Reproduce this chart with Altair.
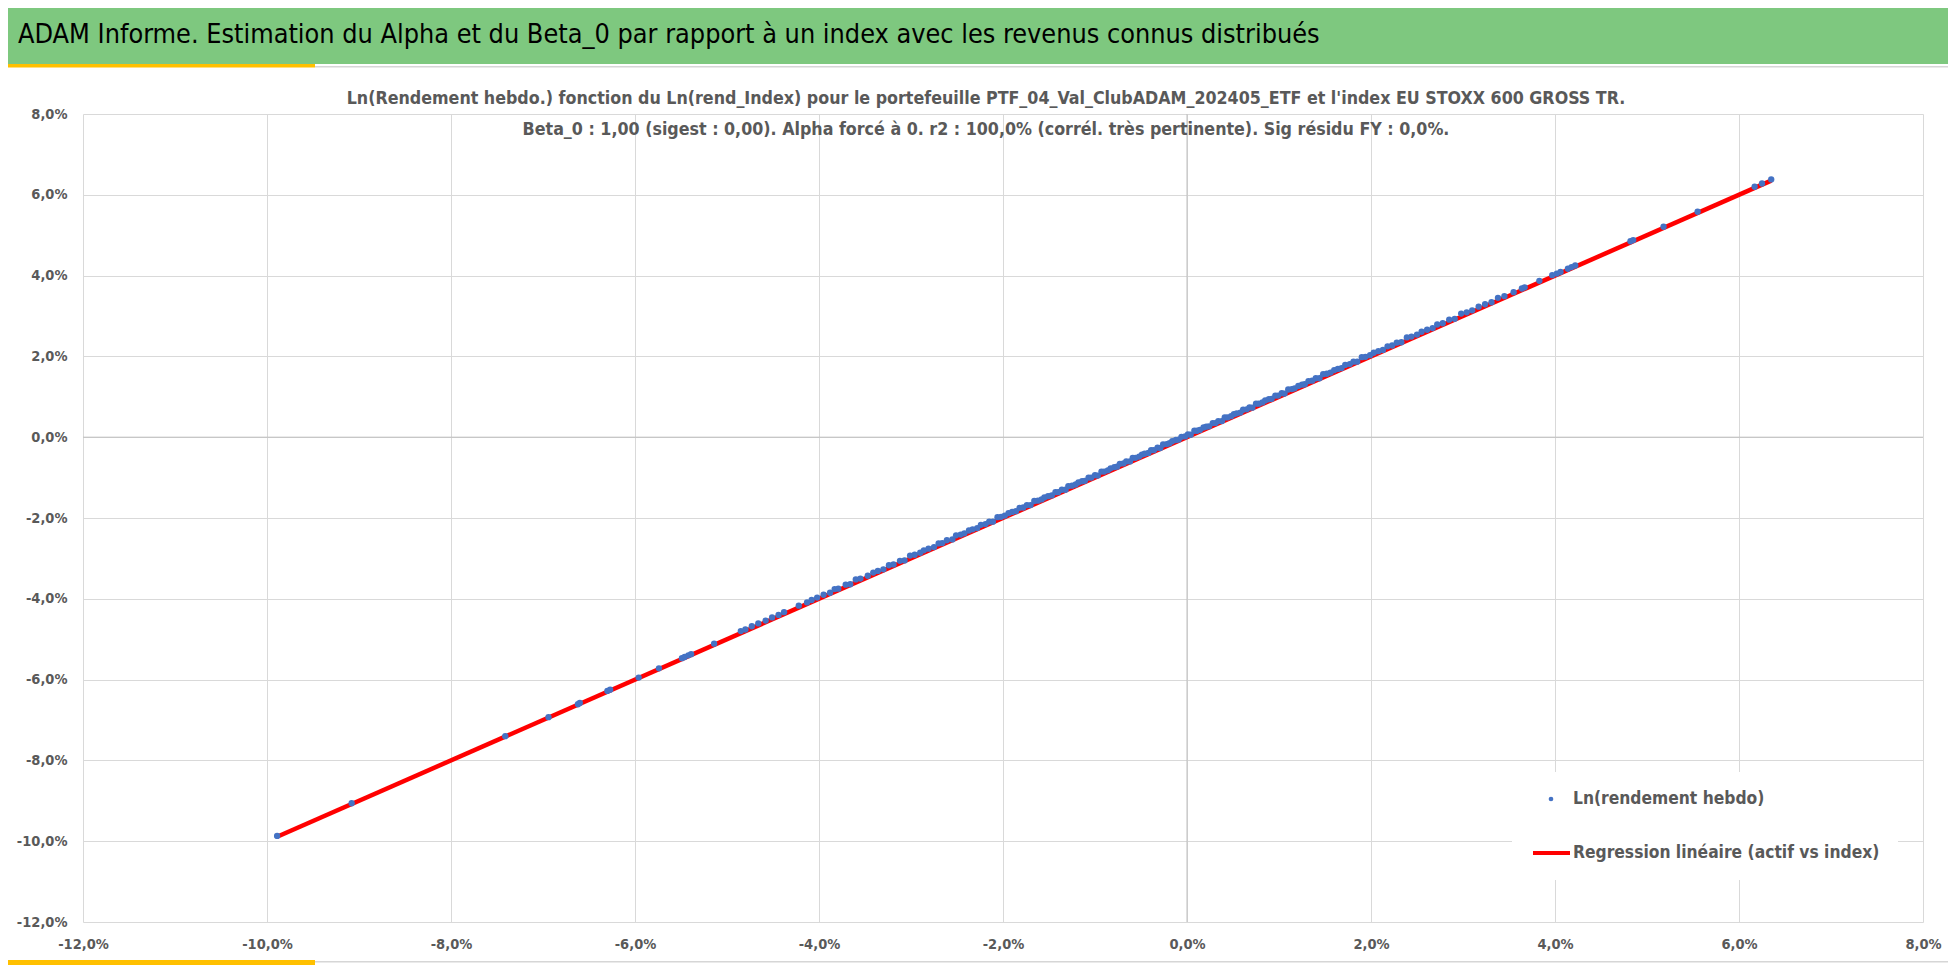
import altair as alt
import pandas as pd

# ---------------- data (values in %) ----------------
idx_x = [
    -9.89, -9.08, -7.41, -6.94, -6.62, -6.60, -6.30, -6.27, -5.96, -5.74,
    -5.49, -5.46, -5.42, -5.39, -5.14, -4.85, -4.80, -4.73, -4.66, -4.58,
    -4.51, -4.44, -4.38, -4.22, -4.13, -4.08, -4.02,
    -3.95, -3.88, -3.83, -3.79, -3.71, -3.66, -3.60, -3.55, -3.47, -3.41,
    -3.36, -3.30, -3.24, -3.19, -3.12, -3.07, -3.01, -2.96, -2.90, -2.86,
    -2.81, -2.75, -2.70, -2.66, -2.61, -2.55, -2.51, -2.46, -2.42, -2.37,
    -2.33, -2.28, -2.24, -2.19, -2.15, -2.11, -2.06, -2.02, -1.98, -1.94,
    -1.90, -1.86, -1.82, -1.78, -1.74, -1.70, -1.66, -1.62, -1.58, -1.55,
    -1.51, -1.47, -1.43, -1.40, -1.36, -1.32, -1.29, -1.25, -1.21, -1.18,
    -1.14, -1.11, -1.07, -1.04, -1.00, -0.97, -0.93, -0.90, -0.86, -0.83,
    -0.79, -0.76, -0.73, -0.69, -0.66, -0.62, -0.59, -0.56, -0.52, -0.49,
    -0.46, -0.42, -0.39, -0.36, -0.32, -0.29, -0.26, -0.22, -0.19, -0.16,
    -0.12, -0.09, -0.06, -0.02, 0.01, 0.04, 0.08, 0.11, 0.14, 0.18,
    0.21, 0.24, 0.28, 0.31, 0.34, 0.38, 0.41, 0.44, 0.48, 0.51,
    0.54, 0.58, 0.61, 0.65, 0.68, 0.71, 0.75, 0.78, 0.82, 0.85,
    0.89, 0.92, 0.96, 0.99, 1.03, 1.06, 1.10, 1.14, 1.17, 1.21,
    1.25, 1.28, 1.32, 1.36, 1.40, 1.44, 1.48, 1.52, 1.56, 1.60,
    1.64, 1.68, 1.72, 1.77, 1.81, 1.85, 1.90, 1.94, 1.99, 2.03,
    2.08, 2.13, 2.18, 2.23, 2.28, 2.33, 2.39, 2.44, 2.50, 2.55,
    2.61, 2.67, 2.72, 2.78, 2.85, 2.91, 2.98, 3.04, 3.10, 3.17,
    3.24, 3.31, 3.38,
    3.45, 3.55, 3.64, 3.67, 3.83, 3.97, 4.02, 4.06, 4.14, 4.18,
    4.22, 4.82, 4.85, 5.18, 5.55, 6.17, 6.25, 6.35,
]
ptf_y = [
    -9.87, -9.06, -7.40, -6.93, -6.61, -6.58, -6.28, -6.25, -5.95, -5.72,
    -5.47, -5.44, -5.40, -5.37, -5.11, -4.80, -4.76, -4.68, -4.61, -4.54,
    -4.46, -4.40, -4.33, -4.17, -4.09, -4.03, -3.97,
    -3.90, -3.85, -3.76, -3.75, -3.65, -3.64, -3.52, -3.50, -3.43, -3.35,
    -3.31, -3.27, -3.17, -3.15, -3.06, -3.05, -2.93, -2.91, -2.86, -2.80,
    -2.76, -2.72, -2.63, -2.62, -2.55, -2.53, -2.43, -2.41, -2.38, -2.31,
    -2.28, -2.25, -2.17, -2.15, -2.09, -2.09, -1.98, -1.97, -1.94, -1.88,
    -1.85, -1.83, -1.75, -1.74, -1.68, -1.68, -1.58, -1.57, -1.54, -1.49,
    -1.46, -1.44, -1.36, -1.36, -1.30, -1.30, -1.21, -1.20, -1.17, -1.12,
    -1.09, -1.08, -1.00, -1.00, -0.94, -0.95, -0.85, -0.85, -0.82, -0.77,
    -0.74, -0.73, -0.66, -0.65, -0.60, -0.60, -0.51, -0.51, -0.48, -0.43,
    -0.41, -0.39, -0.32, -0.32, -0.26, -0.27, -0.18, -0.17, -0.15, -0.10,
    -0.07, -0.06, 0.01, 0.02, 0.07, 0.06, 0.16, 0.16, 0.18, 0.24,
    0.26, 0.27, 0.35, 0.35, 0.40, 0.40, 0.49, 0.49, 0.52, 0.57,
    0.59, 0.61, 0.68, 0.69, 0.74, 0.73, 0.83, 0.83, 0.86, 0.91,
    0.94, 0.95, 1.03, 1.03, 1.09, 1.08, 1.18, 1.19, 1.21, 1.27,
    1.30, 1.31, 1.39, 1.40, 1.46, 1.46, 1.56, 1.57, 1.60, 1.66,
    1.69, 1.71, 1.79, 1.81, 1.87, 1.87, 1.98, 1.99, 2.03, 2.09,
    2.13, 2.16, 2.25, 2.27, 2.34, 2.35, 2.47, 2.49, 2.54, 2.61,
    2.66, 2.70, 2.79, 2.82, 2.91, 2.93, 3.06, 3.09, 3.14, 3.23,
    3.29, 3.34, 3.45,
    3.49, 3.59, 3.68, 3.71, 3.87, 4.01, 4.05, 4.09, 4.17, 4.21,
    4.25, 4.85, 4.88, 5.21, 5.58, 6.20, 6.28, 6.38,
]
reg_x = [-9.89, 6.35]
reg_y = [-9.89, 6.35]
tick_values = [-12, -10, -8, -6, -4, -2, 0, 2, 4, 6, 8]

header_text = ("ADAM Informe. Estimation du Alpha et du Beta_0 par rapport à un index "
               "avec les revenus connus distribués")
sub_line1 = ("Ln(Rendement hebdo.) fonction du Ln(rend_Index) pour le portefeuille "
             "PTF_04_Val_ClubADAM_202405_ETF et l'index EU STOXX  600 GROSS TR.")
sub_line2 = ("Beta_0 : 1,00 (sigest : 0,00).  Alpha forcé à 0. r2 : 100,0% "
             "(corrél. très pertinente). Sig résidu FY : 0,0%.")
legend_points = "Ln(rendement hebdo)"
legend_line = "Regression linéaire (actif vs index)"

# ---------------- styling ----------------
FONT = "Liberation Sans Narrow, DejaVu Sans Condensed, Lato, sans-serif"
GRAY = "#595959"
W, H = 1840, 808

pts = pd.DataFrame({"x": idx_x, "y": ptf_y})
reg = pd.DataFrame({"x": reg_x, "y": reg_y})
dummy = pd.DataFrame({"d": [0]})

label_expr = ("(datum.value < 0 ? '-' : '') + "
              "replace(format(abs(datum.value), '.1f'), '.', ',') + '%'")

xscale = alt.Scale(domain=[-12, 8], nice=False, zero=False)
yscale = alt.Scale(domain=[-12, 8], nice=False, zero=False)

x_enc = alt.X("x:Q", scale=xscale, title=None,
              axis=alt.Axis(values=tick_values, labelExpr=label_expr, grid=True,
                            gridColor="#D9D9D9", domain=False, ticks=False,
                            labelPadding=15, labelFlush=False, labelOverlap=False,
                            labelFont=FONT, labelFontSize=14.5, labelFontWeight="bold",
                            labelColor=GRAY))
y_enc = alt.Y("y:Q", scale=yscale, title=None,
              axis=alt.Axis(values=tick_values, labelExpr=label_expr, grid=True,
                            gridColor="#D9D9D9", domain=False, ticks=False,
                            labelPadding=16, labelOverlap=False,
                            labelFont=FONT, labelFontSize=14.5, labelFontWeight="bold",
                            labelColor=GRAY))


def rect(x, x2, y, y2, color):
    return alt.Chart(dummy).mark_rect(color=color).encode(
        x=alt.value(x), x2=alt.value(x2), y=alt.value(y), y2=alt.value(y2))


def text(s, x, y, size, color, weight="normal", align="left", baseline="middle"):
    return alt.Chart(dummy).mark_text(
        font=FONT, fontSize=size, color=color, fontWeight=weight,
        align=align, baseline=baseline).encode(
        x=alt.value(x), y=alt.value(y), text=alt.value(s))


# decorations (plot origin is at page x=83, y=114)
header = rect(-90, 1880, -120, -50, "#7EC87F")
header_line = rect(232, 1880, -48, -46.5, "#D6D6D6")
yellow_top = rect(-90, 232, -50, -46.5, "#FFC000")
yellow_left = rect(-90, -76, -50, -17, "#FFC000")
bottom_line = rect(232, 1880, 847, 848.5, "#D6D6D6")
yellow_bottom = rect(-90, 232, 846, 851, "#FFC000")

zero_x = alt.Chart(dummy).mark_rule(color="#BFBFBF", strokeWidth=1).encode(
    x=alt.X(datum=0, scale=xscale))
zero_y = alt.Chart(dummy).mark_rule(color="#BFBFBF", strokeWidth=1).encode(
    y=alt.Y(datum=0, scale=yscale))

reg_line = alt.Chart(reg).mark_line(color="#FF0000", strokeWidth=4.5).encode(
    x=x_enc, y=y_enc)
points = alt.Chart(pts).mark_circle(color="#4472C4", size=40, opacity=1).encode(
    x=x_enc, y=y_enc)

legend_bg = rect(1429, 1815, 658, 766, "#FFFFFF")
legend_dot = alt.Chart(dummy).mark_circle(color="#4472C4", size=22, opacity=1).encode(
    x=alt.value(1468), y=alt.value(685))
legend_rule = alt.Chart(dummy).mark_rule(color="#FF0000", strokeWidth=4).encode(
    x=alt.value(1450), x2=alt.value(1487), y=alt.value(739))
legend_t1 = text(legend_points, 1490, 685, 17.3, GRAY, "bold")
legend_t2 = text(legend_line, 1490, 739, 17.3, GRAY, "bold")

title_main = text(header_text, -65, -71, 26.8, "#000000", "normal", baseline="alphabetic")
title_l1 = text(sub_line1, 903, -15, 17.7, GRAY, "bold", align="center")
title_l2 = text(sub_line2, 903, 16, 17.7, GRAY, "bold", align="center")

chart = alt.layer(
    header, header_line, yellow_top, yellow_left, bottom_line, yellow_bottom,
    zero_x, zero_y, reg_line, points,
    legend_bg, legend_dot, legend_rule, legend_t1, legend_t2,
    title_main, title_l1, title_l2,
).properties(
    width=W, height=H,
    padding={"left": 75, "top": 106, "right": 25, "bottom": 44},
    autosize=alt.AutoSizeParams(type="none"),
    background="#FFFFFF",
).configure_view(strokeWidth=0)

chart.save("out.html", embed_options={"renderer": "svg", "actions": False})
